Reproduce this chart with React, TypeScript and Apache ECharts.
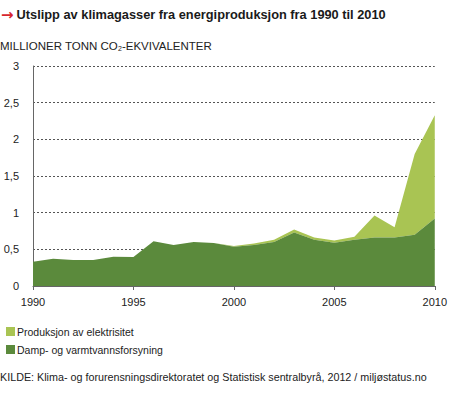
import React, { useEffect, useRef } from "react";
import * as echarts from "echarts";

const years = ["1990","1991","1992","1993","1994","1995","1996","1997","1998","1999","2000","2001","2002","2003","2004","2005","2006","2007","2008","2009","2010"];
const damp = [0.33,0.37,0.355,0.355,0.40,0.395,0.61,0.56,0.60,0.585,0.535,0.56,0.60,0.73,0.63,0.59,0.63,0.66,0.66,0.70,0.92];
const elektrisitet = [0,0,0,0,0,0,0,0,0,0,0.01,0.02,0.03,0.04,0.03,0.03,0.04,0.30,0.14,1.10,1.41];
const yTicks = [0, 0.5, 1, 1.5, 2, 2.5, 3];

const FONT = "Liberation Sans, Arial, sans-serif";
const DARK = "#5b8a3c";
const LIGHT = "#a9c453";

export default function App() {
  const ref = useRef<HTMLDivElement>(null);
  useEffect(() => {
    const chart = echarts.init(ref.current!, null, { renderer: "svg" });
    chart.setOption({
      animation: false,
      textStyle: { fontFamily: FONT },
      title: [
        {
          text: "{a|→}{b|Utslipp av klimagasser fra energiproduksjon fra 1990 til 2010}",
          left: 1,
          top: 7,
          padding: 0,
          textStyle: {
            rich: {
              a: { color: "#d7262e", fontSize: 15, fontWeight: "bold", fontFamily: "DejaVu Sans", padding: [0, 3, 0, 0] },
              b: { color: "#1a1a1a", fontSize: 12.8, fontWeight: "bold", fontFamily: FONT },
            },
          },
        },
        {
          text: "{t|MILLIONER TONN CO}{s|2}{t|-EKVIVALENTER}",
          left: 0,
          top: 39,
          padding: 0,
          textStyle: {
            fontWeight: "normal",
            rich: {
              t: { color: "#222", fontSize: 11.5, fontWeight: "normal", fontFamily: FONT },
              s: { color: "#222", fontSize: 7, fontWeight: "normal", fontFamily: FONT, verticalAlign: "bottom", padding: [6, 0, 0, 0] },
            },
          },
        },
        {
          text: "KILDE: Klima- og forurensningsdirektoratet og Statistisk sentralbyrå, 2012 / miljøstatus.no",
          left: 0,
          top: 371,
          padding: 0,
          textStyle: { color: "#222", fontSize: 10.75, fontWeight: "normal", fontFamily: FONT },
        },
      ],
      legend: {
        orient: "vertical",
        left: 1,
        top: 321,
        itemWidth: 9,
        itemHeight: 9,
        itemGap: 7,
        icon: "rect",
        data: ["Produksjon av elektrisitet", "Damp- og varmtvannsforsyning"],
        textStyle: { color: "#222", fontSize: 10.5, fontFamily: FONT, padding: [0, 0, 0, -3] },
      },
      grid: { left: 33, right: 10, top: 66, bottom: 108 },
      xAxis: {
        type: "category",
        boundaryGap: false,
        data: years,
        axisLine: { show: true, lineStyle: { color: "#666", width: 1 } },
        axisTick: { show: true, length: 4, interval: 4, lineStyle: { color: "#666" } },
        splitLine: { show: false },
        axisLabel: { color: "#222", fontSize: 11, margin: 10, interval: 4 },
      },
      yAxis: {
        type: "value",
        min: yTicks[0],
        max: yTicks[yTicks.length - 1],
        interval: 0.5,
        axisLine: { show: true, lineStyle: { color: "#666", width: 1 } },
        axisTick: { show: false },
        splitLine: { show: true, lineStyle: { color: "#555", type: [2, 2], width: 1 } },
        axisLabel: {
          color: "#222",
          fontSize: 11,
          margin: 14,
          formatter: (v: number) => String(v).replace(".", ","),
        },
      },
      series: [
        {
          name: "Damp- og varmtvannsforsyning",
          type: "line",
          stack: "total",
          symbol: "none",
          lineStyle: { width: 0 },
          itemStyle: { color: DARK },
          areaStyle: { color: DARK, opacity: 1 },
          z: 3,
          data: damp,
        },
        {
          name: "Produksjon av elektrisitet",
          type: "line",
          stack: "total",
          symbol: "none",
          lineStyle: { width: 0 },
          itemStyle: { color: LIGHT },
          areaStyle: { color: LIGHT, opacity: 1 },
          z: 2,
          data: elektrisitet,
        },
      ],
    });
    return () => chart.dispose();
  }, []);
  return <div ref={ref} style={{ width: 450, height: 394, position: "absolute", left: 0, top: 0 }} />;
}
